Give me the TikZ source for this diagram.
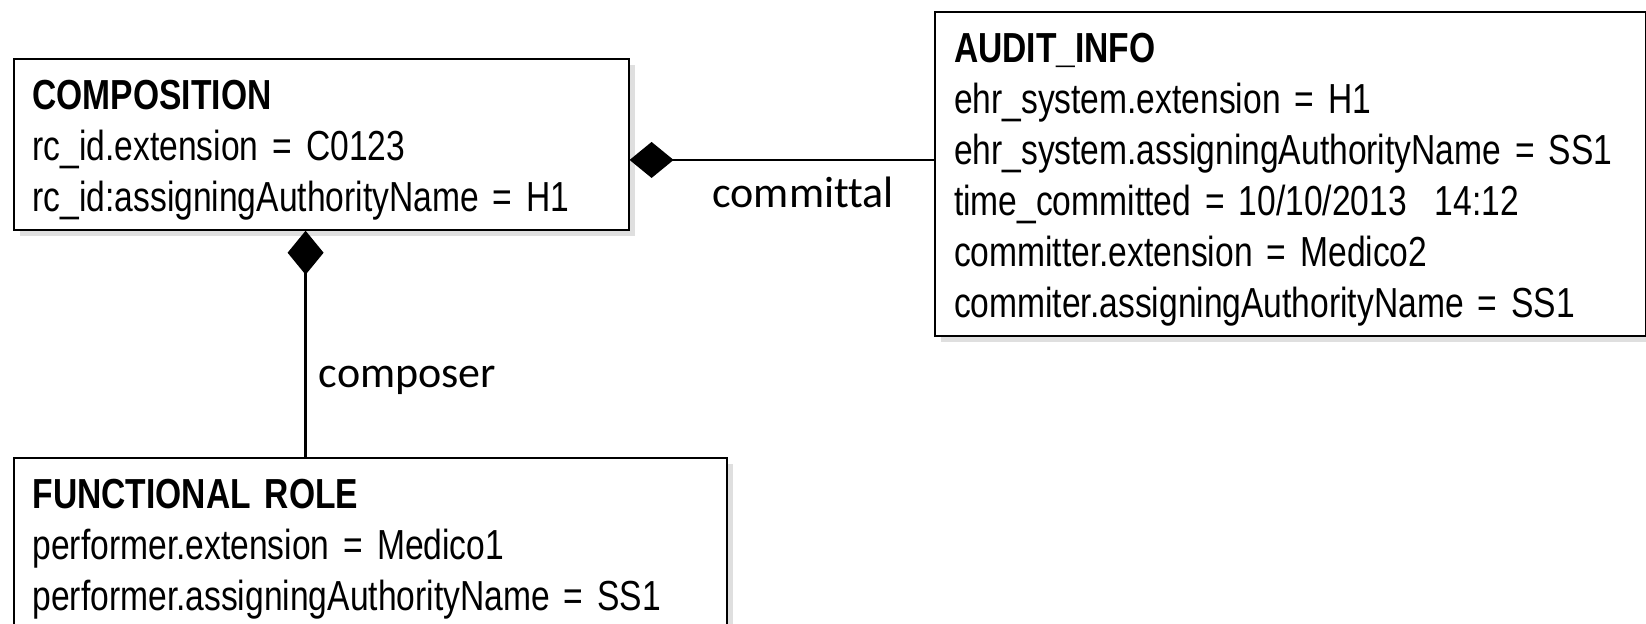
\documentclass[tikz,border=0pt]{standalone}
\usepackage{fontspec}
\setmainfont{Liberation Sans}[FakeStretch=0.8, WordSpace=0.75]
\newfontfamily\rolefont{Carlito}[Ligatures=NoCommon]
\usetikzlibrary{arrows.meta, shadows}

\begin{document}
\begin{tikzpicture}[
    x=0.5pt, y=-0.5pt,
    font=\fontsize{21}{25.5}\selectfont,
    classbox/.style={
      rectangle, draw=black, line width=1pt,
      fill=white, align=left, anchor=north west,
      inner xsep=9.5pt, inner ysep=4.5pt,
      execute at begin node={\rule{0pt}{21pt}},
      drop shadow={shadow xshift=3pt, shadow yshift=-3pt, opacity=0.25}
    },
    compo/.style={-{Diamond[length=22pt, width=18pt]}, line width=1.25pt},
    rolename/.style={font=\rolefont\fontsize{22}{26}\selectfont, inner sep=0pt}
  ]
  \clip (0,0) rectangle (1646,624);
  % Clases
  \node[classbox, text width=288.5pt] (comp) at (12.6,58) {\textbf{COMPOSITION}\\rc\_id.extension = C0123\\rc\_id:assigningAuthorityName = H1};
  \node[classbox, text width=336.5pt] (audit) at (934,11) {\textbf{AUDIT\_INFO}\\ehr\_system.extension = H1\\ehr\_system.assigningAuthorityName = SS1\\time\_committed = 10/10/2013\ \ 14:12\\committer.extension = Medico2\\commiter.assigningAuthorityName = SS1};
  \node[classbox, text width=337.5pt] (role) at (12.6,457) {\textbf{FUNCTIONAL ROLE}\\performer.extension = Medico1\\performer.assigningAuthorityName = SS1};
  % Composiciones
  \coordinate (cmp) at ([xshift=-7.75pt]comp.south);
  \draw[compo] ([yshift=-7.8pt]comp.east -| audit.west) -- ([yshift=-7.8pt]comp.east)
    node[rolename, below=8pt, pos=0.43] {committal};
  \draw[compo] (role.north -| cmp) -- (cmp)
    node[rolename, right=6pt, pos=0.34] {composer};
\end{tikzpicture}
\end{document}
